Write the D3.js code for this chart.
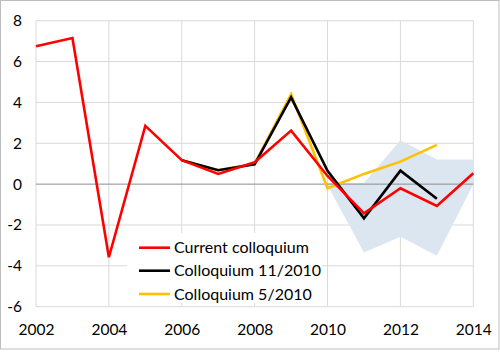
<!DOCTYPE html>
<html>
<head>
<meta charset="utf-8">
<script src="https://cdn.jsdelivr.net/npm/d3@7"></script>
<style>
  body { margin: 0; background: #fff; }
  text { font-family: Lato, "Liberation Sans", sans-serif; fill: #000; }
</style>
</head>
<body>
<div id="chart"></div>
<script>
// data
var years = [2002, 2003, 2004, 2005, 2006, 2007, 2008, 2009, 2010, 2011, 2012, 2013, 2014];
var current = [6.75, 7.15, -3.58, 2.85, 1.17, 0.5, 1.07, 2.62, 0.4, -1.43, -0.2, -1.07, 0.53];

var yearsNov = [2006, 2007, 2008, 2009, 2010, 2011, 2012, 2013];
var nov2010 = [1.17, 0.68, 0.97, 4.25, 0.65, -1.67, 0.66, -0.72];

var yearsMay = [2006, 2007, 2008, 2009, 2010, 2011, 2012, 2013];
var may2010 = [1.17, 0.68, 1.0, 4.4, -0.2, 0.5, 1.1, 1.92];

var bandYears = [2010, 2011, 2012, 2013, 2014];
var bandHigh = [0.05, 0.05, 2.15, 1.2, 1.2];
var bandLow = [-0.05, -3.35, -2.57, -3.51, 0.0];

var xTicks = [2002, 2004, 2006, 2008, 2010, 2012, 2014];
var yTicks = [-6, -4, -2, 0, 2, 4, 6, 8];

var seriesNames = ["Current colloquium", "Colloquium 11/2010", "Colloquium 5/2010"];
var seriesColors = ["#ff0000", "#000000", "#ffc000"];

var W = 500, H = 352;
var margin = {top: 20.7, right: 26.7, bottom: 45.3, left: 36};
var width = W - margin.left - margin.right,
    height = H - margin.top - margin.bottom;

var svg = d3.select("#chart")
  .append("svg")
    .attr("width", W)
    .attr("height", H);

// outer frame
svg.append("rect")
  .attr("x", 0.5).attr("y", 0.5)
  .attr("width", 498.5).attr("height", 348.5)
  .attr("fill", "#fff")
  .attr("stroke", "#bdbdbd");

var g = svg.append("g")
  .attr("transform", "translate(" + margin.left + "," + margin.top + ")");

var x = d3.scaleLinear().domain([2002, 2014]).range([0, width]);
var y = d3.scaleLinear().domain([-6, 8]).range([height, 0]);

// grid
g.append("g").selectAll("line.h")
  .data(yTicks.filter(function(d) { return d !== 0; }))
  .enter().append("line")
    .attr("x1", 0).attr("x2", width)
    .attr("y1", function(d) { return y(d); })
    .attr("y2", function(d) { return y(d); })
    .attr("stroke", "#d9d9d9");
g.append("g").selectAll("line.v")
  .data(xTicks)
  .enter().append("line")
    .attr("x1", function(d) { return x(d); })
    .attr("x2", function(d) { return x(d); })
    .attr("y1", 0).attr("y2", height)
    .attr("stroke", "#d9d9d9");

// uncertainty band
var band = bandYears.map(function(d, i) { return {year: d, lo: bandLow[i], hi: bandHigh[i]}; });
g.append("path")
  .datum(band)
  .attr("fill", "#dce6f0")
  .attr("d", d3.area()
    .x(function(d) { return x(d.year); })
    .y0(function(d) { return y(d.lo); })
    .y1(function(d) { return y(d.hi); }));

// zero line
g.append("line")
  .attr("x1", 0).attr("x2", width)
  .attr("y1", y(0)).attr("y2", y(0))
  .attr("stroke", "#8c8c8c");

// axes labels (plain hyphen for negatives, like the original)
var yAxis = g.append("g").call(d3.axisLeft(y).tickValues(yTicks).tickFormat(function(d) { return String(d); }).tickSize(0).tickPadding(14));
yAxis.select(".domain").remove();
yAxis.selectAll("text").style("font-size", "15.5px").style("font-family", "Lato, sans-serif").attr("fill", "#000");

var xAxis = g.append("g")
  .attr("transform", "translate(0," + height + ")")
  .call(d3.axisBottom(x).tickValues(xTicks).tickFormat(function(d) { return String(d); }).tickSize(0).tickPadding(17));
xAxis.select(".domain").remove();
xAxis.selectAll("text").style("font-size", "15.5px").style("font-family", "Lato, sans-serif").attr("fill", "#000");

// lines
var line = d3.line()
  .x(function(d) { return x(d[0]); })
  .y(function(d) { return y(d[1]); });

var series = [
  d3.zip(yearsMay, may2010),
  d3.zip(yearsNov, nov2010),
  d3.zip(years, current)
];
var order = [2, 1, 0];
series.forEach(function(s, i) {
  g.append("path")
    .datum(s)
    .attr("fill", "none")
    .attr("stroke", seriesColors[order[i]])
    .attr("stroke-width", 2.6)
    .attr("stroke-linejoin", "miter")
    .attr("d", line);
});

// legend
var leg = svg.append("g");
leg.append("rect")
  .attr("x", 127).attr("y", 233)
  .attr("width", 195).attr("height", 70)
  .attr("fill", "#fff");
var rowY = [247.7, 270.7, 294];
seriesNames.forEach(function(name, i) {
  leg.append("line")
    .attr("x1", 139).attr("x2", 170)
    .attr("y1", rowY[i]).attr("y2", rowY[i])
    .attr("stroke", seriesColors[i])
    .attr("stroke-width", 2.6);
  leg.append("text")
    .attr("x", 174)
    .attr("y", rowY[i])
    .attr("dy", "0.35em")
    .style("font-size", "16px")
    .text(name);
});
</script>
</body>
</html>
